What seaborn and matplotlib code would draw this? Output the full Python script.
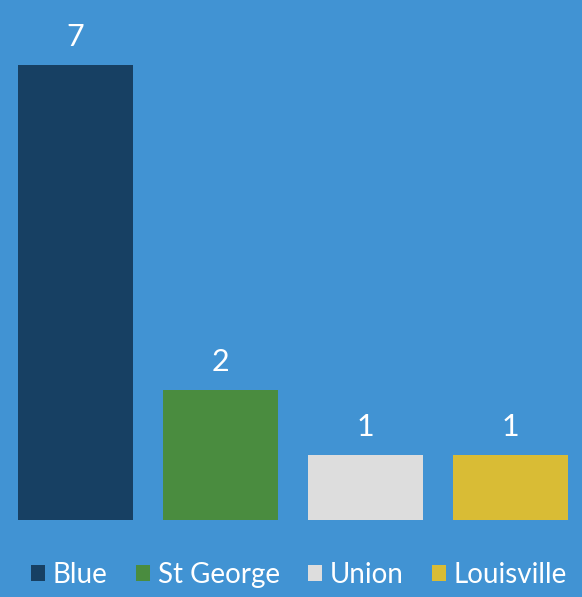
import matplotlib
matplotlib.use("Agg")
import matplotlib.pyplot as plt
import seaborn as sns
import pandas as pd
from matplotlib.patches import Patch

categories = ["Blue", "St George", "Union", "Louisville"]
values = [7, 2, 1, 1]
colors = ["#174063", "#4A8C3F", "#DDDDDD", "#D9BC35"]

sns.set_style("white")
plt.rcParams["font.family"] = ["Lato", "DejaVu Sans"]

bg = "#4193D3"
fig = plt.figure(figsize=(5.82, 5.97), dpi=100, facecolor=bg)
ax = fig.add_axes([3 / 582, 77 / 597, 580 / 582, 520 / 597])
ax.set_facecolor(bg)

df = pd.DataFrame({"cat": categories, "val": values})
sns.barplot(data=df, x="cat", y="val", hue="cat", palette=colors,
            width=0.793, dodge=False, legend=False, ax=ax, saturation=1,
            linewidth=0, edgecolor="none")

ax.set_xlim(-0.5, 3.5)
ax.set_ylim(0, 8)
for c in ax.containers:
    ax.bar_label(c, padding=10, color="white", fontsize=22)
ax.set_axis_off()

handles = [Patch(facecolor=col, edgecolor="none") for col in colors]
leg = fig.legend(handles, categories, loc="center",
                 bbox_to_anchor=(0.5 + 8 / 582, 1 - 575 / 597),
                 ncol=4, frameon=False, fontsize=20, handlelength=0.5, handleheight=0.5,
                 handletextpad=0.3, columnspacing=1.0, labelcolor="white")

fig.savefig("out.png", dpi=100, facecolor=bg)
